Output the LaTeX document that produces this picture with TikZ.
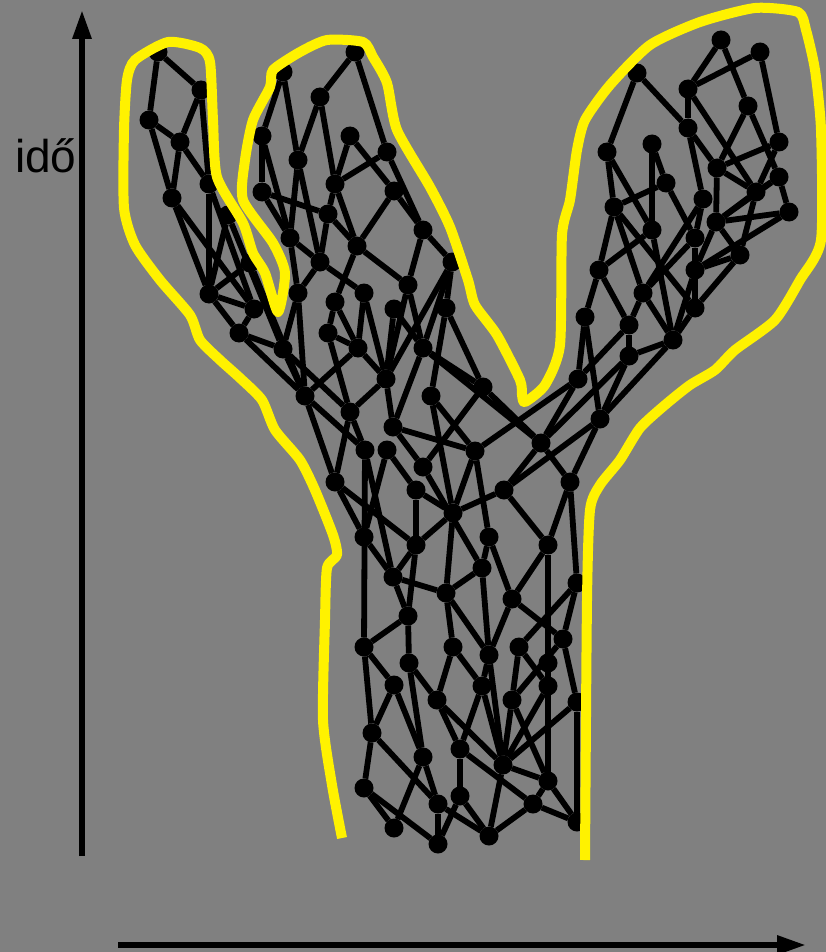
\documentclass[tikz,border=0pt]{standalone}
\usepackage{fontspec}
\setmainfont{Liberation Sans}
\usetikzlibrary{arrows.meta}
\definecolor{bggray}{HTML}{808080}
\tikzset{
  dot/.style={circle,fill=black,draw=none,inner sep=0pt,outer sep=0pt,minimum size=19pt},
  edge/.style={draw=black,line width=5.8pt},
  axis/.style={draw=black,line width=6pt,-{Triangle[length=29pt,width=18pt]}},
  outline/.style={draw=yellow,line width=10pt,line join=round,smooth,tension=0.4}
}
\begin{document}
\begin{tikzpicture}[x=1pt,y=-1pt]
\path[fill=bggray] (0,0) rectangle (826,952);
\useasboundingbox (0,0) rectangle (826,952);
\foreach \n/\x/\y in {
a1/158/52,a2/201/90,a3/149/120,a4/180/142,a5/209/184,a6/172/198,a7/228/215,a8/209/294,a9/250/263,a10/254/309,a11/239/333,a12/283/349,a13/305/396,
b1/283/72,b2/355/52,b3/320/97,b4/262/136,b5/298/160,b6/350/136,b7/387/152,b8/335/184,b9/262/192,b10/394/191,b11/328/214,b12/290/238,b13/357/246,b14/423/230,b15/320/262,b16/452/262,b17/408/285,b18/298/293,b19/335/302,b20/364/293,b21/394/309,b22/446/308,b23/328/333,b24/358/348,b25/423/348,b26/386/379,b27/483/387,b28/431/396,b29/350/412,b30/393/427,b31/365/450,b32/387/450,b33/475/451,b34/423/467,b35/335/482,b36/416/490,b37/453/513,
c1/364/537,c2/416/545,c3/489/537,c4/548/545,c5/482/568,c6/393/577,c7/446/593,c8/512/599,c9/577/583,c10/408/616,c11/364/647,c12/453/647,c13/519/647,c14/563/639,c15/409/663,c16/489/655,c17/548/663,c18/394/685,c19/482/686,c20/548/686,c21/437/700,c22/512/700,c23/577/702,
d1/364/788,d2/372/733,d3/423/757,d4/460/749,d5/503/765,d6/548/781,d7/460/796,d8/438/804,d9/533/804,d10/394/828,d11/438/844,d12/489/836,d13/577/822,
r1/721/40,r2/760/52,r3/688/89,r4/637/73,r5/748/106,r6/688/128,r7/607/152,r8/652/144,r9/779/142,r10/717/168,r11/779/177,r12/666/183,r13/756/192,r14/703/199,r15/614/207,r16/789/212,r17/716/222,r18/652/230,r19/695/238,r20/740/255,r21/599/270,r22/695/270,r23/643/293,r24/695/308,r25/585/317,r26/629/325,r27/673/340,r28/629/356,r29/578/379,r30/600/419,r31/541/443,r32/570/482,r33/504/490}
  {\node[dot] (\n) at (\x,\y) {};}
\foreach \p/\q in {
a1/a2,a1/a3,a2/a4,a2/a5,a3/a4,a3/a6,a4/a5,a4/a6,a5/a8,a5/a10,a6/a8,a6/a10,a7/a8,a7/a12,a8/a9,a8/a10,a8/a11,a9/a13,a10/a11,a11/a12,a11/a13,a12/a13,a12/b29,
b1/b4,b1/b5,b5/b3,b3/b2,b2/b7,b3/b8,b6/b8,b6/b10,b7/b8,b7/b14,b10/b14,b14/b16,b10/b13,b8/b13,b8/b11,b9/b11,b9/b12,b4/b9,b4/b12,b5/b12,b5/b15,b11/b13,b11/b15,b12/b15,b12/b18,b13/b17,b13/b19,b14/b17,b15/b18,b15/b20,
b18/a12,b18/a13,b19/b23,b19/b24,b20/b24,b20/b26,b23/b24,b23/b29,b24/b26,b24/a13,b26/b29,b21/b26,b17/b26,b16/b26,b21/b25,b17/b25,b16/b25,b16/b22,b22/b28,b22/b27,b25/b27,b25/b30,b26/b30,b28/b33,b28/b37,b27/b34,b30/b33,b30/b34,b34/c5,b33/b37,b33/c3,b32/b36,b36/b37,b32/c1,b31/b29,b31/a13,b29/b35,a13/b35,b35/c1,b35/c2,b31/c11,b31/c6,
c1/c6,c2/c6,c2/c10,c2/b36,c2/b37,c6/c7,c6/c10,b37/c7,c3/c5,c3/c8,c5/c7,c5/c16,c7/c12,c7/c16,c8/c4,c8/c16,c8/c14,c4/r32,c4/r33,c4/d6,c9/c13,c9/c14,c9/r32,c10/c11,c10/c15,c11/c18,c11/d2,c12/c19,c12/c21,c13/c22,c13/c20,c14/c22,c14/c23,c15/c21,c15/d3,c16/c19,c18/d2,c18/d3,c21/d4,c21/d5,c19/d4,c19/d5,c16/d5,c22/d5,c22/d6,c20/d5,c23/d5,c23/d13,
d2/d1,d2/d8,d3/d8,d3/d10,d1/d10,d1/d11,d8/d11,d11/d7,d8/d12,d7/d12,d4/d7,d4/d9,d5/d6,d5/d12,d12/d9,d9/d6,d9/d13,d6/d13,
r1/r3,r1/r5,r2/r3,r2/r9,r3/r6,r3/r13,r4/r7,r4/r6,r5/r10,r5/r11,r6/r10,r6/r14,r7/r15,r7/r18,r8/r18,r8/r12,r9/r10,r9/r13,r10/r13,r10/r17,r11/r13,r11/r16,r11/r17,r13/r17,r13/r20,r16/r17,r16/r22,r15/r12,r12/r19,r14/r19,r14/r23,r15/r21,r15/r23,r15/r24,r18/r21,r18/r27,r19/r23,r19/r24,r19/r22,r17/r22,r17/r20,r20/r22,r20/r24,r22/r24,r21/r25,r21/r26,r23/r26,r23/r27,r26/r29,r26/r28,r27/r28,r27/r30,r28/r30,r28/r31,r24/r27,r22/r27,r29/r31,r29/r25,r25/r30,r29/b33,r30/r33,r30/r32,r31/r32,r31/r33,b27/r31,b25/r31,r33/b37}
  {\draw[edge] (\p) -- (\q);}
\draw[outline] plot coordinates {(342,838) (332,785) (323,720) (325,620) (327,568) (337,555) (333,535) (315,490) (300,460) (275,430) (262,400) (240,378) (220,360) (200,340) (190,315) (160,280) (135,245) (124,208) (124,130) (127,80) (135,60) (168,42) (200,48) (210,62) (213,120) (217,177) (243,223) (253,253) (265,273) (278,312) (285,273) (273,243) (243,200) (245,160) (253,120) (270,87) (273,70) (300,52) (327,40) (363,42) (373,57) (387,83) (397,130) (430,187) (450,227) (468,280) (475,305) (497,335) (520,380) (522,395) (525,402) (545,385) (560,345) (562,235) (570,200) (577,150) (585,120) (610,85) (650,45) (700,22) (755,8) (798,12) (806,30) (815,70) (821,130) (821,240) (800,280) (775,320) (735,350) (715,370) (690,385) (665,405) (640,428) (620,460) (600,485) (590,510) (587,600) (585,860)};
\coordinate (vs) at (82,856); \coordinate (ve) at (82,10);
\coordinate (hs) at (118,945); \coordinate (he) at (806,945);
\draw[axis] (vs) -- (ve);
\draw[axis] (hs) -- (he);
\node[anchor=base west,inner sep=0pt,font=\fontsize{46}{48}\selectfont] (idolabel) at (15,172) {idő};
\end{tikzpicture}
\end{document}
